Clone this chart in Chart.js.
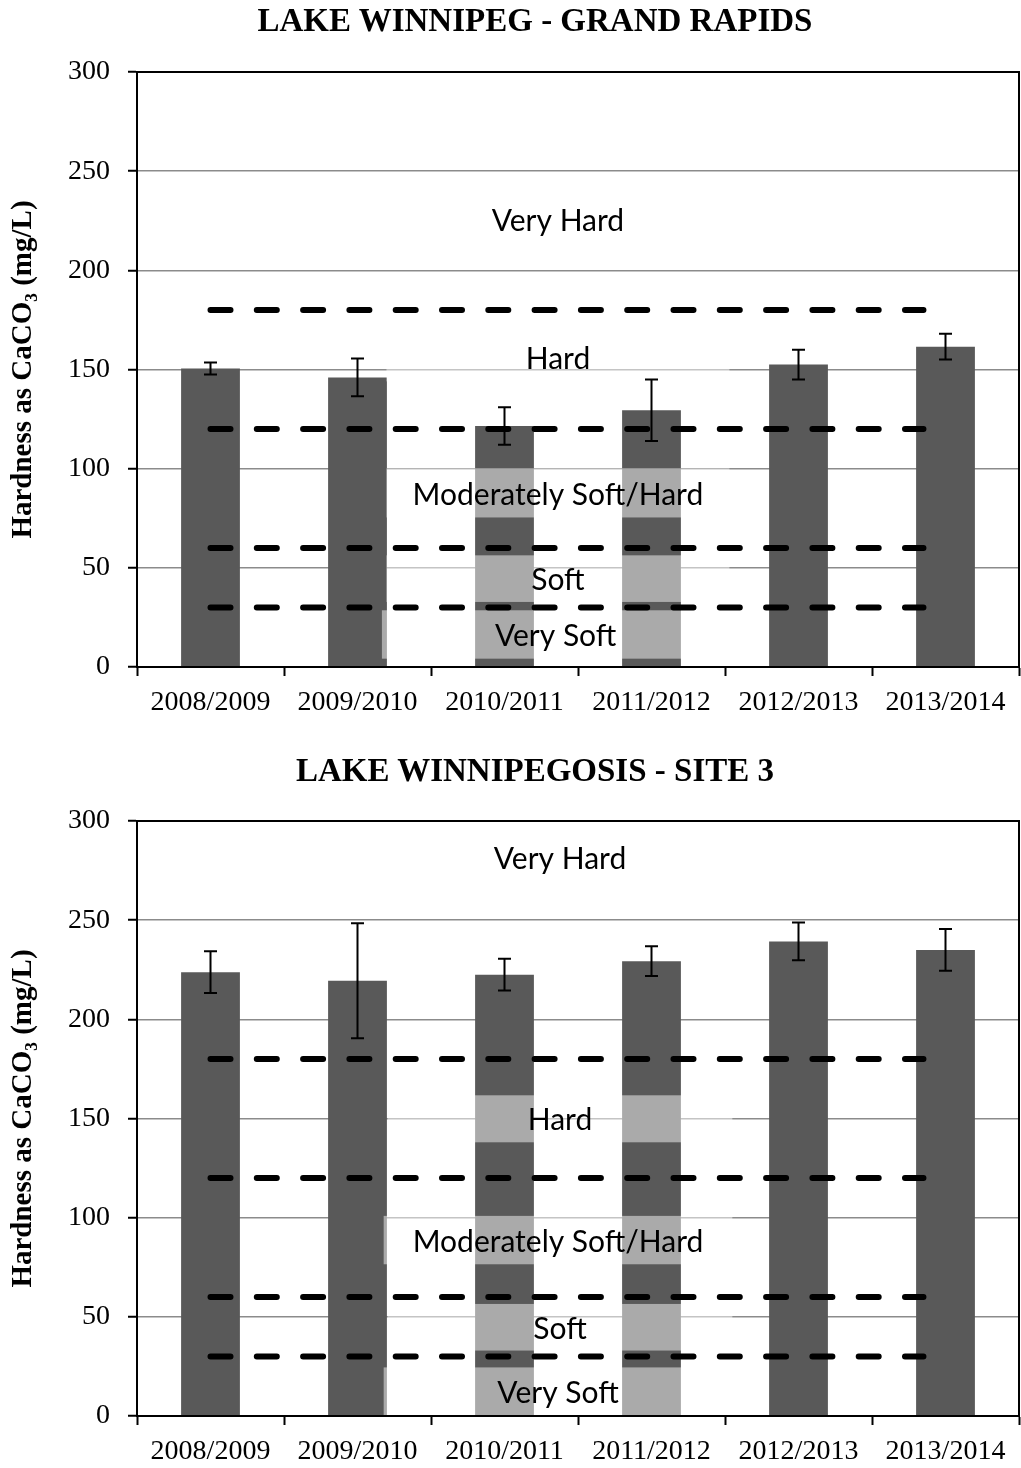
<!DOCTYPE html>
<html>
<head>
<meta charset="utf-8">
<script src="https://cdn.jsdelivr.net/npm/chart.js@4.4.1/dist/chart.umd.min.js"></script>
<style>
  html, body { margin: 0; padding: 0; background: #fff; width: 1021px; height: 1468px; overflow: hidden; position: relative; }
  .title { position: absolute; left: 535px; transform: translateX(-50%); z-index: 2;
           font: bold 33px "Liberation Serif", "Times New Roman", serif; line-height: 33px;
           white-space: nowrap; color: #000; }
  .panel { position: absolute; left: 0; width: 1021px; z-index: 1; }
  canvas { display: block; }
</style>
</head>
<body>
<div class="title" style="top:4px">LAKE WINNIPEG - GRAND RAPIDS</div>
<div class="panel" style="top:0px"><canvas id="grandRapids" width="1021" height="740"></canvas></div>
<div class="title" style="top:754px">LAKE WINNIPEGOSIS - SITE 3</div>
<div class="panel" style="top:740px"><canvas id="winnipegosis" width="1021" height="760"></canvas></div>

<script>
// ---- data ----
const seasons = ['2008/2009', '2009/2010', '2010/2011', '2011/2012', '2012/2013', '2013/2014'];

const grandRapidsHardness = [150.5, 146.0, 121.5, 129.5, 152.5, 161.5];
const grandRapidsSpread   = [3.0, 9.5, 9.5, 15.5, 7.5, 6.5];

const winnipegosisHardness = [223.8, 219.5, 222.5, 229.3, 239.3, 235.0];
const winnipegosisSpread   = [10.5, 29.0, 8.0, 7.5, 9.5, 10.5];

// hardness class limits (mg/L as CaCO3) and class names
const classBreaks = [180, 120, 60, 30];
const classNames = ['Very Hard', 'Hard', 'Moderately Soft/Hard', 'Soft', 'Very Soft'];

const yTickValues = [0, 50, 100, 150, 200, 250, 300];

// ---- layout of the class label boxes and limit lines (axis units) ----
// x runs from -0.5 (left edge) to 5.5 (right edge), one unit per season
const breakSpan = [0, 4.85];
// each box: [top, bottom, left, right]
const grandRapidsBoxes = [
  [238, 213, 1.197, 3.53],
  [168, 144, 1.197, 3.53],
  [100.2, 75.4, 1.197, 3.53],
  [56.3, 32.8, 1.197, 3.53],
  [28.6, 4.2, 1.166, 3.53]
];
const winnipegosisBoxes = [
  [294, 269, 1.205, 3.55],
  [161.7, 138, 1.205, 3.55],
  [100.9, 76.5, 1.178, 3.55],
  [56.5, 33, 1.205, 3.55],
  [24.5, 0, 1.178, 3.55]
];

const BAR_COLOR = '#595959';
const GRID_COLOR = '#8b8b8b';
const SERIF = '"Liberation Serif", "Times New Roman", serif';
const LABEL_FONT = '30px Lato, Carlito, Calibri, sans-serif';

function overlayPlugin(spread, boxes) {
  return {
    id: 'hardnessOverlay',
    // translucent class label boxes sit on top of the bars
    afterDatasetDraw(chart, args) {
      if (args.index !== 0) return;
      const { ctx } = chart;
      const xs = chart.scales.x2, ys = chart.scales.y;
      ctx.save();
      ctx.font = LABEL_FONT;
      ctx.textAlign = 'center';
      ctx.textBaseline = 'middle';
      boxes.forEach((b, i) => {
        const top = ys.getPixelForValue(b[0]);
        const bottom = ys.getPixelForValue(b[1]);
        const left = xs.getPixelForValue(b[2]);
        const right = xs.getPixelForValue(b[3]);
        ctx.fillStyle = 'rgba(255,255,255,0.49)';
        ctx.fillRect(left, top, right - left, bottom - top);
        ctx.fillStyle = '#000';
        ctx.fillText(classNames[i], (left + right) / 2, (top + bottom) / 2 + 2);
      });
      ctx.restore();
    },
    // error bars and plot frame
    afterDatasetsDraw(chart) {
      const { ctx, chartArea: a } = chart;
      const ys = chart.scales.y;
      const meta = chart.getDatasetMeta(0);
      const vals = chart.data.datasets[0].data;
      ctx.save();
      ctx.strokeStyle = '#000';
      ctx.lineWidth = 2;
      meta.data.forEach((bar, i) => {
        const hi = ys.getPixelForValue(vals[i] + spread[i]);
        const lo = ys.getPixelForValue(vals[i] - spread[i]);
        const cap = 6.5;
        ctx.beginPath();
        ctx.moveTo(bar.x, hi); ctx.lineTo(bar.x, lo);
        ctx.moveTo(bar.x - cap, hi); ctx.lineTo(bar.x + cap, hi);
        ctx.moveTo(bar.x - cap, lo); ctx.lineTo(bar.x + cap, lo);
        ctx.stroke();
      });
      ctx.strokeRect(a.left, a.top, a.right - a.left, a.bottom - a.top);
      ctx.restore();
    }
  };
}

function buildChart(canvasId, values, spread, boxes, padding) {
  const limitLines = classBreaks.map(v => ({
    type: 'line',
    xAxisID: 'x2',
    yAxisID: 'y',
    data: [{ x: breakSpan[0], y: v }, { x: breakSpan[1], y: v }],
    borderColor: '#000',
    borderWidth: 6,
    borderDash: [20, 26.3],
    borderCapStyle: 'round',
    pointRadius: 0,
    fill: false,
    order: 1
  }));

  return new Chart(document.getElementById(canvasId), {
    type: 'bar',
    data: {
      labels: seasons,
      datasets: [{
        type: 'bar',
        xAxisID: 'x',
        yAxisID: 'y',
        data: values,
        backgroundColor: BAR_COLOR,
        borderWidth: 0,
        grouped: false,
        barPercentage: 0.4,
        categoryPercentage: 1.0,
        order: 2
      }, ...limitLines]
    },
    options: {
      responsive: false,
      animation: false,
      layout: { padding: padding },
      plugins: { legend: { display: false }, tooltip: { enabled: false }, title: { display: false } },
      scales: {
        x: {
          type: 'category',
          offset: true,
          grid: { display: true, drawOnChartArea: false, offset: true, drawTicks: true,
                  tickLength: 9, tickColor: '#000', tickWidth: 2 },
          border: { display: true, color: '#000', width: 2 },
          ticks: { color: '#000', font: { family: SERIF, size: 28 }, padding: 10,
                   maxRotation: 0, autoSkip: false },
          afterFit(scale) { scale.height = 50; }
        },
        x2: { type: 'linear', display: false, offset: false, grid: { offset: false },
              min: -0.5, max: 5.5 },
        y: {
          min: 0, max: 300,
          afterBuildTicks(scale) { scale.ticks = yTickValues.map(v => ({ value: v })); },
          grid: { color: GRID_COLOR, lineWidth: 1.5, drawTicks: true, tickLength: 9,
                  tickColor: '#000', tickWidth: 2 },
          border: { display: true, color: '#000', width: 2 },
          ticks: { color: '#000', font: { family: SERIF, size: 28 }, padding: 18 },
          title: {
            display: true,
            text: 'Hardness as CaCO\u2083 (mg/L)',
            color: '#000',
            font: { family: SERIF, size: 29, weight: 'bold' },
            padding: { top: 6, bottom: 0 }
          },
          afterFit(scale) { scale.width = 137; }
        }
      }
    },
    plugins: [overlayPlugin(spread, boxes)]
  });
}

function draw() {
  buildChart('grandRapids', grandRapidsHardness, grandRapidsSpread, grandRapidsBoxes,
             { top: 72, bottom: 23, left: 0, right: 2 });
  buildChart('winnipegosis', winnipegosisHardness, winnipegosisSpread, winnipegosisBoxes,
             { top: 81, bottom: 34, left: 0, right: 2 });
}

const fontLoads = [
  document.fonts.load(LABEL_FONT),
  document.fonts.load('28px "Liberation Serif"'),
  document.fonts.load('bold 29px "Liberation Serif"')
];
Promise.all(fontLoads).then(draw, draw);
</script>
</body>
</html>
